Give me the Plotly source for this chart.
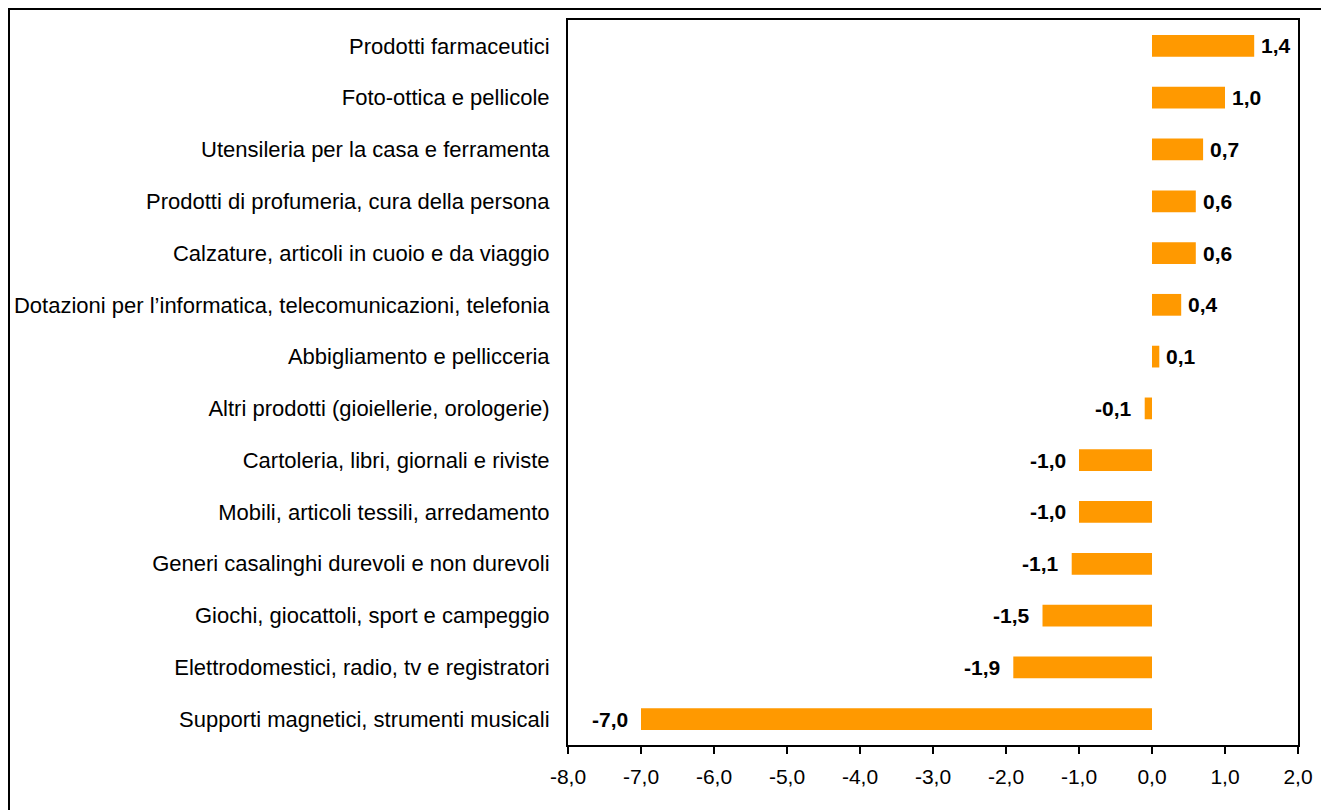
import plotly.graph_objects as go

categories = [
    "Supporti magnetici, strumenti musicali",
    "Elettrodomestici, radio, tv e registratori",
    "Giochi, giocattoli, sport e campeggio",
    "Generi casalinghi durevoli e non durevoli",
    "Mobili, articoli tessili, arredamento",
    "Cartoleria, libri, giornali e riviste",
    "Altri prodotti (gioiellerie, orologerie)",
    "Abbigliamento e pellicceria",
    "Dotazioni per l\u2019informatica, telecomunicazioni, telefonia",
    "Calzature, articoli in cuoio e da viaggio",
    "Prodotti di profumeria, cura della persona",
    "Utensileria per la casa e ferramenta",
    "Foto-ottica e pellicole",
    "Prodotti farmaceutici",
]
values = [-7.0, -1.9, -1.5, -1.1, -1.0, -1.0, -0.1, 0.1, 0.4, 0.6, 0.6, 0.7, 1.0, 1.4]
x_ticks = [-8, -7, -6, -5, -4, -3, -2, -1, 0, 1, 2]
x_tick_labels = ["-8,0", "-7,0", "-6,0", "-5,0", "-4,0", "-3,0", "-2,0", "-1,0", "0,0", "1,0", "2,0"]

FONT = "Liberation Sans, Arial, sans-serif"
n = len(categories)
ypos = list(range(n))


def fmt(v):
    return f"{v:.1f}".replace(".", ",")


fig = go.Figure()
fig.add_trace(go.Bar(
    x=values, y=ypos, orientation="h",
    marker=dict(color="#FF9900", line=dict(width=0)),
    width=0.42, hoverinfo="skip", showlegend=False,
))

for v, y in zip(values, ypos):
    fig.add_annotation(
        x=v, y=y, xref="x", yref="y",
        text="<b>" + fmt(v) + "</b>",
        showarrow=False,
        xanchor="left" if v >= 0 else "right",
        xshift=5 if v >= 0 else -11,
        font=dict(family=FONT, size=21, color="black"),
    )

# page offset of the plot div (body margin)
OFF = 8
W, H = 1329 - OFF, 810 - OFF
L, R, T, B = 568 - OFF, 1298 - OFF, 20 - OFF, 745 - OFF

xmin, xmax = x_ticks[0], x_ticks[-1]
zero_frac = (0 - xmin) / (xmax - xmin)

fig.update_layout(
    width=W, height=H,
    margin=dict(l=L, r=W - R, t=T, b=H - B, autoexpand=False),
    paper_bgcolor="white", plot_bgcolor="white",
    font=dict(family=FONT, size=20, color="black"),
    xaxis=dict(
        range=[xmin, xmax], tickvals=x_ticks, ticktext=x_tick_labels,
        showgrid=False, zeroline=False,
        showline=True, linecolor="black", linewidth=2, mirror=True,
        ticks="outside", ticklen=7, tickwidth=2, tickcolor="black",
        ticklabelstandoff=5,
        tickfont=dict(family=FONT, size=21, color="black"),
    ),
    yaxis=dict(
        range=[-0.5, n - 0.5], tickvals=ypos, ticktext=categories,
        showgrid=False, zeroline=False,
        showline=True, linecolor="black", linewidth=2, mirror=True,
        ticks="", ticklabelstandoff=12,
        tickfont=dict(family=FONT, size=22, color="black"),
    ),
    yaxis2=dict(
        overlaying="y", anchor="free", position=zero_frac, side="left",
        range=[-0.5, n - 0.5],
        tickvals=[i - 0.5 for i in range(n + 1)],
        showticklabels=False, showgrid=False, zeroline=False,
        showline=True, linecolor="black", linewidth=2,
        ticks="outside", ticklen=7, tickwidth=2, tickcolor="black",
    ),
)

# outer chart border (figure pixel coords converted to paper fractions)
pw, ph = R - L, B - T
bx0, bx1, by0, by1 = 1, 1317, H + 10, 1
fig.add_shape(
    type="rect", xref="paper", yref="paper",
    x0=(bx0 - L) / pw, x1=(bx1 - L) / pw,
    y0=(B - by0) / ph, y1=(B - by1) / ph,
    line=dict(color="black", width=2), fillcolor="rgba(0,0,0,0)",
    layer="below",
)

fig.write_html("out.html")
